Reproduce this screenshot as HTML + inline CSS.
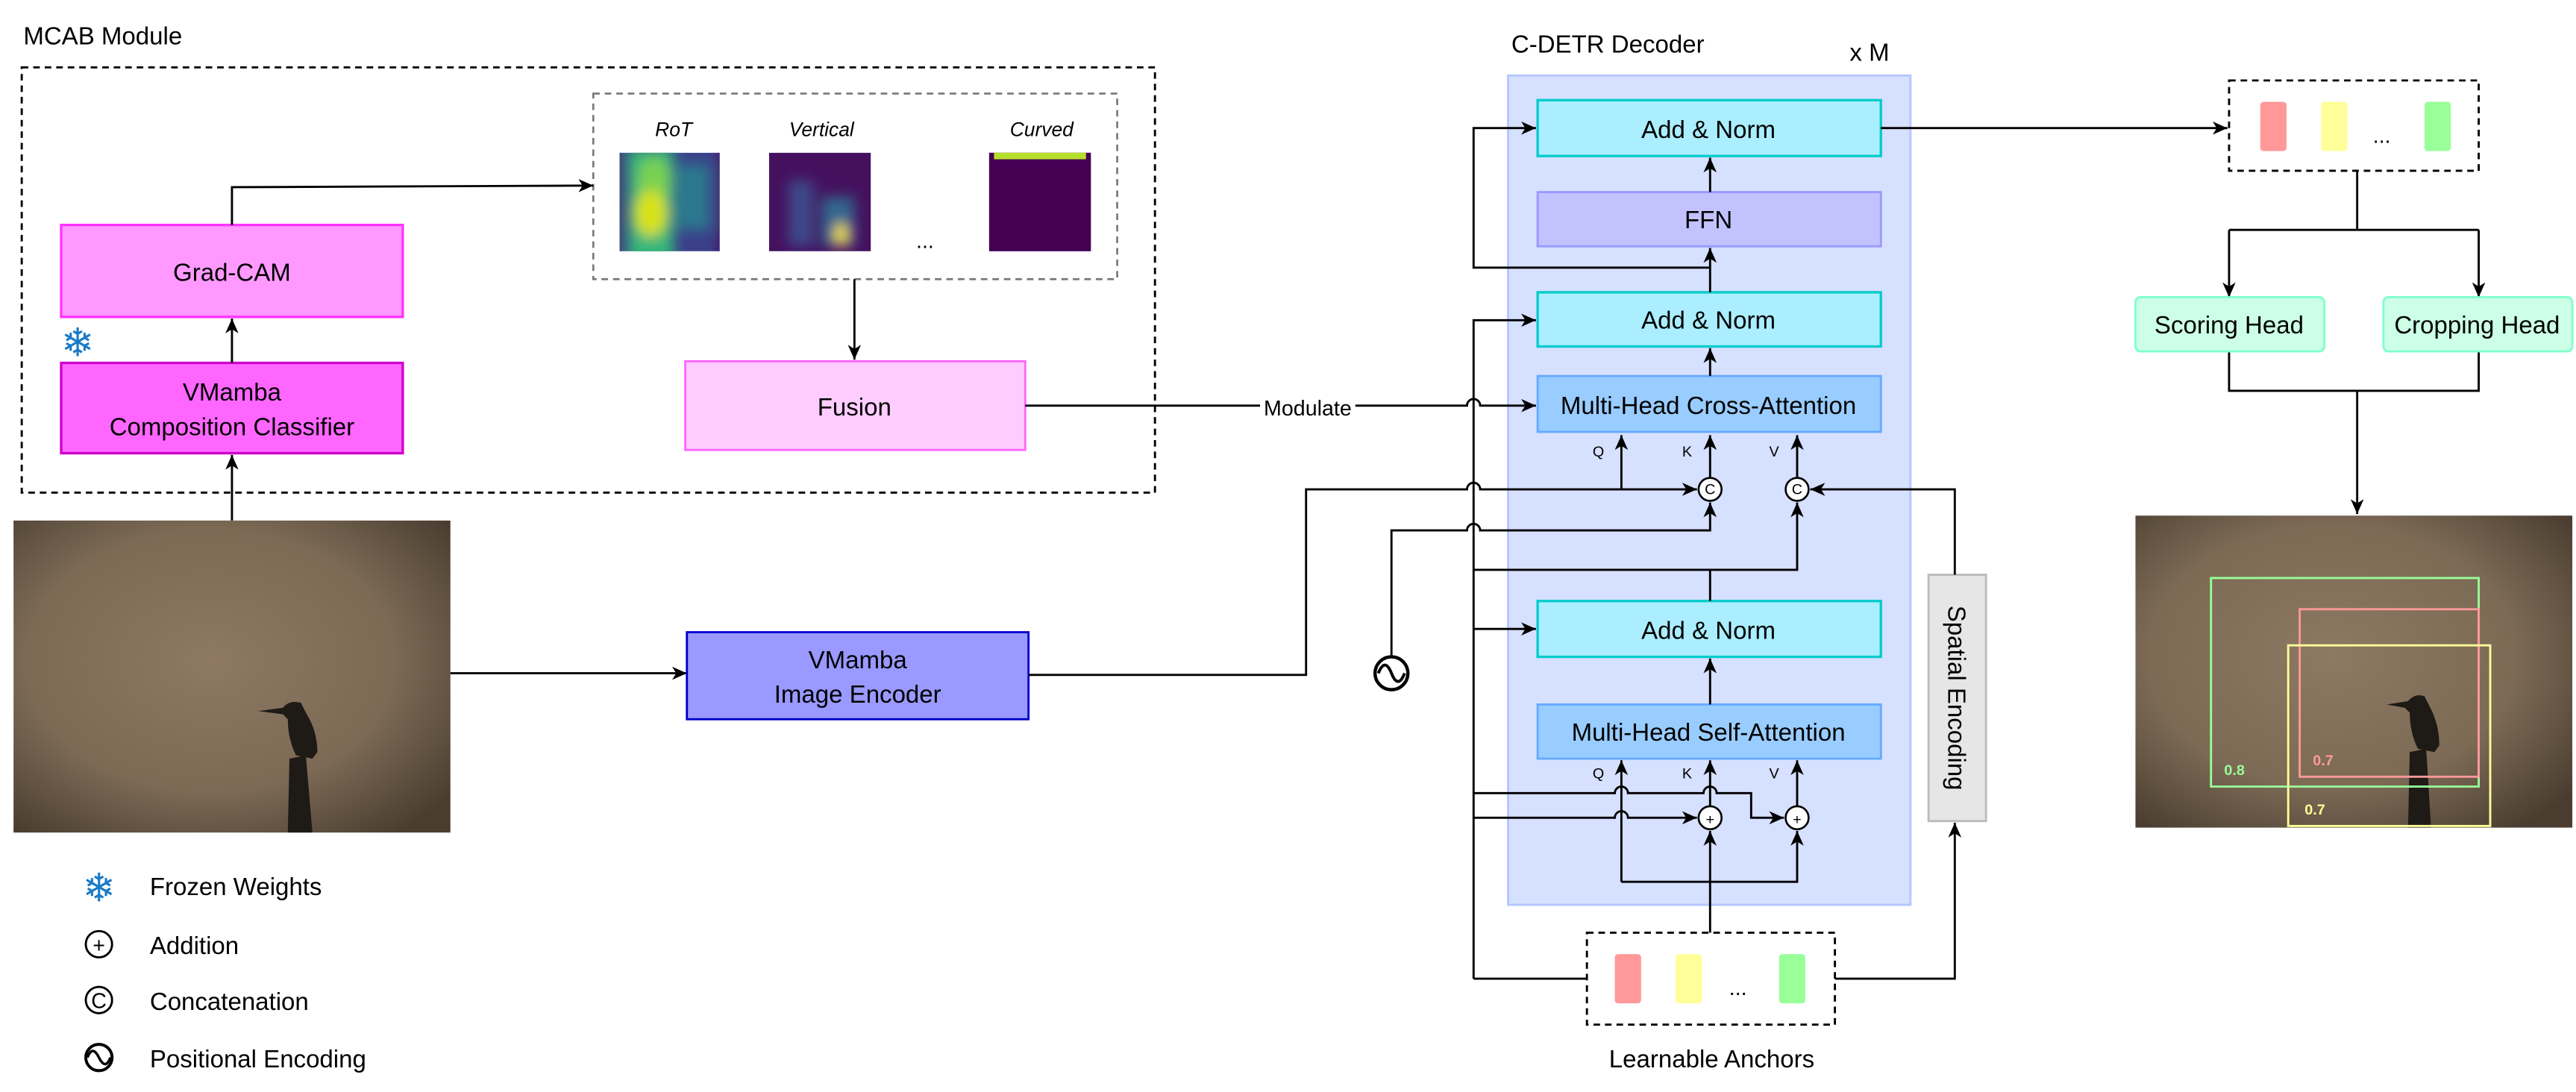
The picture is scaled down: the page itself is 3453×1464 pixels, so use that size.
<!DOCTYPE html>
<html><head><meta charset="utf-8"><style>
html,body{margin:0;padding:0;background:#fff;}
svg{display:block;}
text{font-family:"Liberation Sans",sans-serif;fill:#000;}
</style></head><body>
<svg width="3453" height="1464" viewBox="0 0 1568 665" xmlns="http://www.w3.org/2000/svg">
<defs>
<marker id="a" markerUnits="userSpaceOnUse" markerWidth="10" markerHeight="8" refX="9" refY="4" orient="auto"><path d="M0,0 L9,4 L0,8 L2.5,4 z" fill="#000"/></marker>
<radialGradient id="bg" cx="0.45" cy="0.45" r="0.7"><stop offset="0" stop-color="#8e7962"/><stop offset="0.6" stop-color="#7c6a55"/><stop offset="1" stop-color="#4a3d30"/></radialGradient>
<filter id="bl" x="-50%" y="-50%" width="200%" height="200%"><feGaussianBlur stdDeviation="4"/></filter>
<clipPath id="c1"><rect x="377" y="93" width="61" height="60"/></clipPath>
<clipPath id="c2"><rect x="468" y="93" width="62" height="60"/></clipPath>
</defs>

<!-- MCAB -->
<text x="14" y="27" font-size="15">MCAB Module</text>
<rect x="13" y="41" width="690" height="259" fill="none" stroke="#000" stroke-width="1.3" stroke-dasharray="4,3"/>
<rect x="361" y="57" width="319" height="113" fill="none" stroke="#777" stroke-width="1.2" stroke-dasharray="4,3"/>
<text x="410" y="83" font-size="12" font-style="italic" text-anchor="middle">RoT</text>
<text x="500" y="83" font-size="12" font-style="italic" text-anchor="middle">Vertical</text>
<text x="634" y="83" font-size="12" font-style="italic" text-anchor="middle">Curved</text>
<g clip-path="url(#c1)">
<rect x="377" y="93" width="61" height="60" fill="#3b3f8a"/>
<g filter="url(#bl)">
<rect x="382" y="90" width="28" height="70" fill="#35b779"/>
<rect x="412" y="100" width="20" height="40" fill="#2a788e"/>
<ellipse cx="398" cy="110" rx="10" ry="14" fill="#7ad151"/>
<ellipse cx="396" cy="130" rx="10" ry="14" fill="#d8e219"/>
<rect x="370" y="90" width="6" height="70" fill="#440154"/>
<rect x="438" y="90" width="6" height="70" fill="#440154"/>
</g>
</g>
<g clip-path="url(#c2)">
<rect x="468" y="93" width="62" height="60" fill="#45115f"/>
<g filter="url(#bl)">
<rect x="480" y="110" width="15" height="40" fill="#3e4a89"/>
<rect x="500" y="120" width="20" height="30" fill="#31688e"/>
<ellipse cx="512" cy="143" rx="4" ry="7" fill="#fde725"/>
</g>
</g>
<rect x="602" y="93" width="62" height="60" fill="#440154"/>
<rect x="605" y="93" width="56" height="4" fill="#b5de2b"/>
<text x="563" y="151" font-size="13" text-anchor="middle">...</text>

<rect x="37" y="137" width="208" height="56" fill="#ff99ff" stroke="#ff33ff" stroke-width="1.5"/>
<text x="141" y="171" font-size="15" text-anchor="middle">Grad-CAM</text>
<rect x="37" y="221" width="208" height="55" fill="#ff66ff" stroke="#cc00cc" stroke-width="1.5"/>
<text x="141" y="244" font-size="15" text-anchor="middle">VMamba</text>
<text x="141" y="265" font-size="15" text-anchor="middle">Composition Classifier</text>
<text x="47" y="217" font-size="24" text-anchor="middle" style="fill:#1a7ac8">❄</text>
<rect x="417" y="220" width="207" height="54" fill="#ffccff" stroke="#ff66ff" stroke-width="1.3"/>
<text x="520" y="253" font-size="15" text-anchor="middle">Fusion</text>

<g fill="none" stroke="#000" stroke-width="1.3">
<path d="M141,137 L141,114 L361,113" marker-end="url(#a)"/>
<path d="M141,221 L141,194" marker-end="url(#a)"/>
<path d="M520,170 L520,219" marker-end="url(#a)"/>
<path d="M141,317 L141,277" marker-end="url(#a)"/>
<path d="M274,410 L418,410" marker-end="url(#a)"/>
</g>

<!-- images -->
<rect x="8" y="317" width="266" height="190" fill="url(#bg)"/>
<path d="M175,507 L176,462 L186,460 L190,507 Z" fill="#1e1a16"/>
<path d="M157,433 L172,431 Q176,426 183,428 L186,434 Q193,445 193,458 L190,462 L180,460 Q175,450 175,438 L172,435 Z" fill="#1e1a16"/>
<rect x="418" y="385" width="208" height="53" fill="#9999ff" stroke="#0000cc" stroke-width="1.3"/>
<text x="522" y="407" font-size="15" text-anchor="middle">VMamba</text>
<text x="522" y="428" font-size="15" text-anchor="middle">Image Encoder</text>

<!-- Legend -->
<text x="60" y="549" font-size="24" text-anchor="middle" style="fill:#1a7ac8">❄</text>
<text x="91" y="545" font-size="15">Frozen Weights</text>
<circle cx="60" cy="575" r="8" fill="none" stroke="#000" stroke-width="1.3"/>
<text x="60" y="580" font-size="13" text-anchor="middle">+</text>
<text x="91" y="581" font-size="15">Addition</text>
<circle cx="60" cy="609" r="8" fill="none" stroke="#000" stroke-width="1.3"/>
<text x="60" y="614" font-size="13" text-anchor="middle">C</text>
<text x="91" y="615" font-size="15">Concatenation</text>
<circle cx="60" cy="644" r="8" fill="none" stroke="#000" stroke-width="1.8"/>
<path d="M53,644 Q56,636 60,644 Q64,652 67,644" fill="none" stroke="#000" stroke-width="1.6"/>
<text x="91" y="650" font-size="15">Positional Encoding</text>

<!-- Decoder -->
<text x="920" y="32" font-size="15">C-DETR Decoder</text>
<text x="1126" y="37" font-size="15">x M</text>
<rect x="918" y="46" width="245" height="505" fill="#d6e0ff" stroke="#b3c6ff" stroke-width="1.3"/>
<rect x="936" y="61" width="209" height="34" fill="#aaeeff" stroke="#00cccc" stroke-width="1.5"/>
<text x="1040" y="84" font-size="15" text-anchor="middle">Add &amp; Norm</text>
<rect x="936" y="117" width="209" height="33" fill="#c2c2ff" stroke="#9999ff" stroke-width="1.3"/>
<text x="1040" y="139" font-size="15" text-anchor="middle">FFN</text>
<rect x="936" y="178" width="209" height="33" fill="#aaeeff" stroke="#00cccc" stroke-width="1.5"/>
<text x="1040" y="200" font-size="15" text-anchor="middle">Add &amp; Norm</text>
<rect x="936" y="229" width="209" height="34" fill="#99ccff" stroke="#66aaff" stroke-width="1.3"/>
<text x="1040" y="252" font-size="15" text-anchor="middle">Multi-Head Cross-Attention</text>
<rect x="936" y="366" width="209" height="34" fill="#aaeeff" stroke="#00cccc" stroke-width="1.5"/>
<text x="1040" y="389" font-size="15" text-anchor="middle">Add &amp; Norm</text>
<rect x="936" y="429" width="209" height="33" fill="#99ccff" stroke="#66aaff" stroke-width="1.3"/>
<text x="1040" y="451" font-size="15" text-anchor="middle">Multi-Head Self-Attention</text>
<rect x="1174" y="350" width="35" height="150" fill="#e6e6e6" stroke="#bbbbbb" stroke-width="1.3"/>
<text x="0" y="0" font-size="15" text-anchor="middle" transform="translate(1186,425) rotate(90)">Spatial Encoding</text>

<g font-size="9" text-anchor="middle">
<text x="973" y="278">Q</text><text x="1027" y="278">K</text><text x="1080" y="278">V</text>
<text x="973" y="474">Q</text><text x="1027" y="474">K</text><text x="1080" y="474">V</text>
</g>

<g fill="none" stroke="#000" stroke-width="1.3">
<path d="M1041,117 L1041,96" marker-end="url(#a)"/>
<path d="M1041,178 L1041,151" marker-end="url(#a)"/>
<path d="M1041,163 L897,163 L897,78 L935,78" marker-end="url(#a)"/>
<path d="M1041,229 L1041,212" marker-end="url(#a)"/>
<path d="M624,247 L893,247 A4,4 0 0 1 901,247 L935,247" marker-end="url(#a)"/>
<path d="M626,411 L795,411 L795,298 L893,298 A4,4 0 0 1 901,298 L1033,298" marker-end="url(#a)"/>
<path d="M987,298 L987,265" marker-end="url(#a)"/>
<path d="M847,399 L847,323 L893,323 A4,4 0 0 1 901,323 L1041,323 L1041,306" marker-end="url(#a)"/>
<path d="M1041,291 L1041,265" marker-end="url(#a)"/>
<path d="M1094,291 L1094,265" marker-end="url(#a)"/>
<path d="M1190,350 L1190,298 L1102,298" marker-end="url(#a)"/>
<path d="M897,596 L897,195 L935,195" marker-end="url(#a)"/>
<path d="M897,347 L1094,347 L1094,306" marker-end="url(#a)"/>
<path d="M1041,366 L1041,347"/>
<path d="M897,383 L935,383" marker-end="url(#a)"/>
<path d="M1041,429 L1041,401" marker-end="url(#a)"/>
<path d="M897,483 L983,483 A4,4 0 0 1 991,483 L1037,483 A4,4 0 0 1 1045,483 L1066,483 L1066,498 L1086,498" marker-end="url(#a)"/>
<path d="M897,498 L983,498 A4,4 0 0 1 991,498 L1033,498" marker-end="url(#a)"/>
<path d="M987,537 L987,463" marker-end="url(#a)"/>
<path d="M987,537 L1094,537 L1094,506" marker-end="url(#a)"/>
<path d="M1041,491 L1041,463" marker-end="url(#a)"/>
<path d="M1094,491 L1094,463" marker-end="url(#a)"/>
<path d="M1041,568 L1041,506" marker-end="url(#a)"/>
<path d="M966,596 L897,596"/>
<path d="M1117,596 L1190,596 L1190,501" marker-end="url(#a)"/>
<path d="M1145,78 L1356,78" marker-end="url(#a)"/>
<path d="M1435,104 L1435,140 M1357,140 L1509,140"/>
<path d="M1357,140 L1357,181" marker-end="url(#a)"/>
<path d="M1509,140 L1509,181" marker-end="url(#a)"/>
<path d="M1357,214 L1357,238 L1509,238 L1509,214 M1435,238 L1435,313" marker-end="url(#a)"/>
</g>
<rect x="767" y="240" width="58" height="16" fill="#fff"/>
<text x="796" y="253" font-size="13" text-anchor="middle">Modulate</text>

<g fill="#fff" stroke="#000" stroke-width="1.2">
<circle cx="1041" cy="298" r="7"/><circle cx="1094" cy="298" r="7"/>
<circle cx="1041" cy="498" r="7"/><circle cx="1094" cy="498" r="7"/>
</g>
<g font-size="9" text-anchor="middle">
<text x="1041" y="301">C</text><text x="1094" y="301">C</text>
<text x="1041" y="502">+</text><text x="1094" y="502">+</text>
</g>
<circle cx="847" cy="410" r="10" fill="#fff" stroke="#000" stroke-width="2"/>
<path d="M839,410 Q843,400 847,410 Q851,420 855,410" fill="none" stroke="#000" stroke-width="1.8"/>

<!-- anchors -->
<rect x="966" y="568" width="151" height="56" fill="#fff" stroke="#000" stroke-width="1.3" stroke-dasharray="4,3"/>
<rect x="983" y="581" width="16" height="30" rx="2" fill="#ff9999"/>
<rect x="1020" y="581" width="16" height="30" rx="2" fill="#ffff99"/>
<text x="1058" y="606" font-size="13" text-anchor="middle">...</text>
<rect x="1083" y="581" width="16" height="30" rx="2" fill="#99ff99"/>
<text x="1042" y="650" font-size="15" text-anchor="middle">Learnable Anchors</text>

<!-- outputs -->
<rect x="1357" y="49" width="152" height="55" fill="#fff" stroke="#000" stroke-width="1.3" stroke-dasharray="4,3"/>
<rect x="1376" y="62" width="16" height="30" rx="2" fill="#ff9999"/>
<rect x="1413" y="62" width="16" height="30" rx="2" fill="#ffff99"/>
<text x="1450" y="87" font-size="13" text-anchor="middle">...</text>
<rect x="1476" y="62" width="16" height="30" rx="2" fill="#99ff99"/>
<rect x="1300" y="181" width="115" height="33" rx="3" fill="#ccffe6" stroke="#80ffcc" stroke-width="1.3"/>
<text x="1357" y="203" font-size="15" text-anchor="middle">Scoring Head</text>
<rect x="1451" y="181" width="115" height="33" rx="3" fill="#ccffe6" stroke="#80ffcc" stroke-width="1.3"/>
<text x="1508" y="203" font-size="15" text-anchor="middle">Cropping Head</text>

<rect x="1300" y="314" width="266" height="190" fill="url(#bg)"/>
<path d="M1466,504 L1467,458 L1477,456 L1480,504 Z" fill="#1e1a16"/>
<path d="M1453,429 L1466,427 Q1470,422 1476,424 L1479,430 Q1485,441 1485,454 L1482,458 L1472,456 Q1467,446 1467,434 L1464,431 Z" fill="#1e1a16"/>
<g fill="none" stroke-width="1.3">
<rect x="1346" y="352" width="163" height="127" stroke="#99ff99"/>
<rect x="1400" y="371" width="109" height="102" stroke="#ff9999"/>
<rect x="1393" y="393" width="123" height="110" stroke="#ffff99"/>
</g>
<text x="1354" y="472" font-size="9" font-weight="bold" style="fill:#99ff99">0.8</text>
<text x="1408" y="466" font-size="9" font-weight="bold" style="fill:#ff9999">0.7</text>
<text x="1403" y="496" font-size="9" font-weight="bold" style="fill:#ffff99">0.7</text>
</svg>
</body></html>
